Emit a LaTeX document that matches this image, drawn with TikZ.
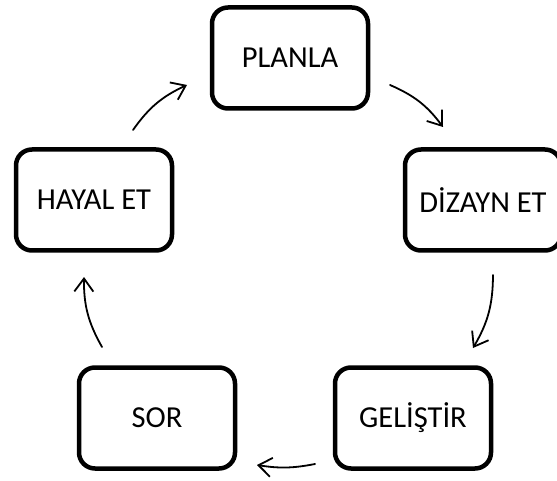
\documentclass[tikz,border=0pt]{standalone}
\usepackage{fontspec}
\setmainfont{Carlito}
\usetikzlibrary{arrows.meta}
\begin{document}
\begin{tikzpicture}[x=1pt,y=-1pt,
  stepbox/.style={draw, line width=4.5pt, rounded corners=16pt,
    minimum width=156pt, minimum height=101pt, inner sep=0pt,
    font=\fontsize{30.5}{36}\selectfont},
  flow/.style={line width=1.8pt, line cap=round,
    -{Straight Barb[length=13pt,width=19pt,line width=1.8pt]}}]
\useasboundingbox (0,0) rectangle (557,481);
\clip (0,0) rectangle (557,481);
\fill[white] (0,0) rectangle (557,481);

\node[stepbox] (planla) at (290,58) {PLANLA};
\node[stepbox] (dizayn) at (483,200) {DİZAYN ET};
\node[stepbox] (hayal) at (94,200) {HAYAL ET};
\node[stepbox] (sor) at (157,418) {SOR};
\node[stepbox] (gelistir) at (413,418) {GELİŞTİR};

\coordinate (a1s) at (133,130); \coordinate (a1e) at (187,85);
\coordinate (a2s) at (390,85);  \coordinate (a2e) at (443,127);
\coordinate (a3s) at (493,275); \coordinate (a3e) at (473,348);
\coordinate (a4s) at (315,464); \coordinate (a4e) at (257,465);
\coordinate (a5s) at (102,347); \coordinate (a5e) at (84,277);

\draw[flow] (a1s) to[bend left=15] (a1e);
\draw[flow] (a2s) to[bend left=15] (a2e);
\draw[flow] (a3s) to[bend left=15] (a3e);
\draw[flow] (a4s) to[bend left=10] (a4e);
\draw[flow] (a5s) to[bend left=15] (a5e);
\end{tikzpicture}
\end{document}
